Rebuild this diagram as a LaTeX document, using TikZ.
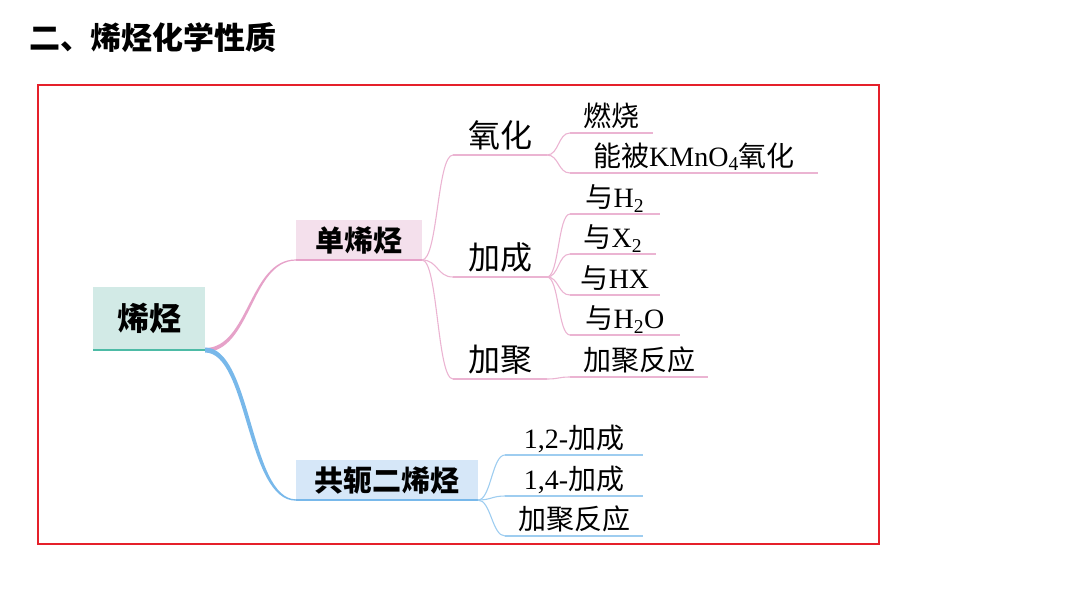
\documentclass[tikz,border=0pt]{standalone}
\usepackage{fontspec}
\setmainfont{Liberation Serif}
\newfontfamily\cjk{Noto Sans CJK SC}
\definecolor{frameRed}{HTML}{E5202A}
\definecolor{pinkL}{HTML}{E6A2C9}
\definecolor{pinkT}{HTML}{EBB4D2}
\definecolor{pinkF}{HTML}{F4E0EC}
\definecolor{blueL}{HTML}{78B8EA}
\definecolor{blueT}{HTML}{9ECDF0}
\definecolor{blueF}{HTML}{D6E7F8}
\definecolor{tealF}{HTML}{D2EAE6}
\definecolor{tealL}{HTML}{4DBBA6}
\begin{document}
\begin{tikzpicture}[x=1pt,y=-1pt,
  base/.style={inner sep=0pt, outer sep=0pt},
  s28/.style={font=\fontsize{28}{32}\selectfont, text height=24.6pt, text depth=3.4pt},
  s29/.style={font=\fontsize{29}{33}\selectfont\cjk\bfseries, text height=25.5pt, text depth=3.5pt},
  s31/.style={font=\fontsize{31}{35}\selectfont\cjk\bfseries, text height=27.3pt, text depth=3.7pt},
  s32/.style={font=\fontsize{32}{36}\selectfont\cjk, text height=28.2pt, text depth=3.8pt},
  s32b/.style={font=\fontsize{32}{36}\selectfont\cjk\bfseries, text height=28.2pt, text depth=3.8pt},
  boxnode/.style={base, rectangle, minimum height=#1},
  midnode/.style={base, s32, minimum width=94, minimum height=40, anchor=south west},
  leafnode/.style={base, s28, minimum width=#1, minimum height=34, anchor=south west},
  pinkthin/.style={draw=pinkT, line width=1.1pt},
  bluethin/.style={draw=blueT, line width=1.1pt},
]
\useasboundingbox (0,0) rectangle (1080,608);

% title
\node[base, s31, anchor=west] (title) at (29,38) {二、烯烃化学性质};

% frame
\draw[frameRed, line width=2pt] (38,85) rectangle (879,544);

% main boxes
\node[boxnode=63, minimum width=112, fill=tealF, s32b] (root) at (149,318.5) {烯烃};
\node[boxnode=40, minimum width=126, fill=pinkF, s29] (dan) at (359,240) {单烯烃};
\node[boxnode=40, minimum width=182, fill=blueF, s29] (gong) at (387,480) {共轭二烯烃};
\draw[tealL, line width=1.6pt] (root.south west) -- (root.south east);
\draw[pinkL, line width=1.5pt] (dan.south west) -- (dan.south east);
\draw[blueL, line width=1.5pt] (gong.south west) -- (gong.south east);

% tapered root connectors
\fill[pinkL] ([yshift=2pt]root.south east) .. controls +(44,0) and +(-47,0) .. ([yshift=0.6pt]dan.south west)
   -- ([yshift=-0.6pt]dan.south west) .. controls +(-45,0) and +(46,0) .. ([yshift=-2pt]root.south east) -- cycle;
\fill[blueL] ([yshift=2.5pt]root.south east) .. controls +(47,0) and +(-46,0) .. ([yshift=0.7pt]gong.south west)
   -- ([yshift=-0.7pt]gong.south west) .. controls +(-50,0) and +(43,0) .. ([yshift=-2.5pt]root.south east) -- cycle;

% second level (单烯烃)
\node[midnode] (yh) at (453,155) {氧化};
\node[midnode] (jc) at (453,277) {加成};
\node[midnode] (jj) at (453,379) {加聚};
\foreach \n in {yh,jc,jj}{
  \draw[pinkthin] (dan.south east) .. controls +(16,0) and +(-16,0) .. (\n.south west);
  \draw[pinkthin] (\n.south west) -- (\n.south east);
}

% leaves of 氧化
\node[leafnode=83] (rs) at (570,133) {{\cjk 燃烧}};
\node[leafnode=248] (km) at (570,173) {{\cjk 能被}KMnO\textsubscript{4}{\cjk 氧化}};
% leaves of 加成
\node[leafnode=90] (h2) at (570,214) {{\cjk 与}H\textsubscript{2}};
\node[leafnode=86] (x2) at (570,254) {{\cjk 与}X\textsubscript{2}};
\node[leafnode=90] (hx) at (570,295) {{\cjk 与}HX};
\node[leafnode=110] (h2o) at (570,335) {{\cjk 与}H\textsubscript{2}O};
% leaf of 加聚
\node[leafnode=138] (jjfy) at (570,377) {{\cjk 加聚反应}};

\foreach \p/\c in {yh/rs, yh/km, jc/h2, jc/x2, jc/hx, jc/h2o, jj/jjfy}{
  \draw[pinkthin] (\p.south east) .. controls +(12,0) and +(-12,0) .. (\c.south west);
  \draw[pinkthin] (\c.south west) -- (\c.south east);
}

% leaves of 共轭二烯烃
\node[leafnode=138] (a12) at (505,455) {1,2-{\cjk 加成}};
\node[leafnode=138] (a14) at (505,496) {1,4-{\cjk 加成}};
\node[leafnode=138] (bjj) at (505,536) {{\cjk 加聚反应}};
\foreach \c in {a12,a14,bjj}{
  \draw[bluethin] (gong.south east) .. controls +(13,0) and +(-13,0) .. (\c.south west);
  \draw[bluethin] (\c.south west) -- (\c.south east);
}
\end{tikzpicture}
\end{document}
